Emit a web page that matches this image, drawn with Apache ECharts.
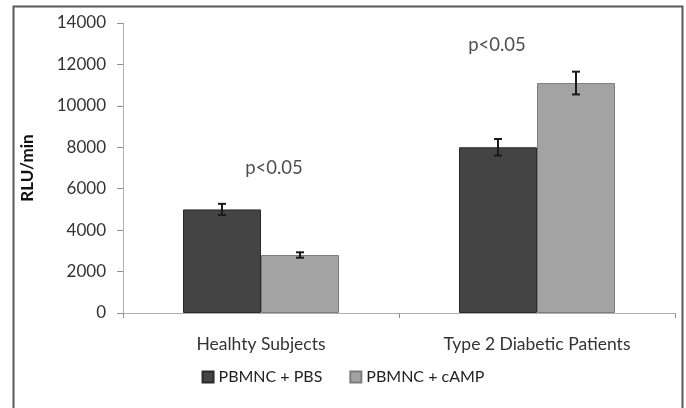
<!DOCTYPE html>
<html><head><meta charset="utf-8">
<script src="https://cdn.jsdelivr.net/npm/echarts@6/dist/echarts.min.js"></script>
<style>html,body{margin:0;padding:0;background:#fff}#c{width:686px;height:408px}</style>
</head><body><div id="c"></div>
<script>
var categories = ['Healhty Subjects', 'Type 2 Diabetic Patients'];
var seriesNames = ['PBMNC + PBS', 'PBMNC + cAMP'];
var pbsValues = [5000, 8000];
var campValues = [2800, 11100];
var pbsErrors = [270, 400];
var campErrors = [130, 550];
var yTicks = [0, 2000, 4000, 6000, 8000, 10000, 12000, 14000];
var annotations = [
  {cat: 'Healhty Subjects', value: 7000, text: 'p<0.05', dx: 13},
  {cat: 'Type 2 Diabetic Patients', value: 12950, text: 'p<0.05', dx: -40}
];

var FONT = 'Lato';
var BAR_W = 78;
var chart = echarts.init(document.getElementById('c'));

function errSeries(vals, errs, dx) {
  return {
    type: 'custom', silent: true, z: 10,
    data: categories.map(function (c, i) { return [i, vals[i], errs[i]]; }),
    renderItem: function (params, api) {
      var x = api.coord([api.value(0), 0])[0] + dx;
      var hi = api.coord([api.value(0), api.value(1) + api.value(2)])[1];
      var lo = api.coord([api.value(0), api.value(1) - api.value(2)])[1];
      var cw = 4;
      var st = {stroke: '#1a1a1a', lineWidth: 2};
      return {type: 'group', children: [
        {type: 'line', shape: {x1: x, y1: hi, x2: x, y2: lo}, style: st},
        {type: 'line', shape: {x1: x - cw, y1: hi, x2: x + cw, y2: hi}, style: st},
        {type: 'line', shape: {x1: x - cw, y1: lo, x2: x + cw, y2: lo}, style: st}
      ]};
    }
  };
}

chart.setOption({
  backgroundColor: '#fff',
  animation: false,
  textStyle: {fontFamily: FONT},
  grid: {left: 123, right: 11, top: 23, bottom: 95},
  graphic: [{type: 'rect', shape: {x: 13.5, y: 6.5, width: 669, height: 420},
    style: {fill: 'none', stroke: '#5a5a5a', lineWidth: 2}, silent: true}],
  legend: {
    data: seriesNames, bottom: 18, left: 'center', icon: 'rect',
    itemWidth: 11, itemHeight: 11, itemGap: 27,
    textStyle: {fontFamily: FONT, fontSize: 16, color: '#222'}
  },
  xAxis: {
    type: 'category', data: categories,
    axisLine: {lineStyle: {color: '#b0b0b0', width: 1}},
    axisTick: {show: true, length: 5, lineStyle: {color: '#909090'}, alignWithLabel: false},
    axisLabel: {fontFamily: FONT, fontSize: 17.5, color: '#333', margin: 22}
  },
  yAxis: {
    type: 'value', min: 0, max: 14000, interval: 2000,
    name: 'RLU/min', nameLocation: 'middle', nameGap: 87, nameRotate: 90,
    nameTextStyle: {fontFamily: FONT, fontSize: 17, fontWeight: 'bold', color: '#111'},
    axisLine: {show: true, lineStyle: {color: '#b0b0b0'}},
    axisTick: {show: true, length: 6, lineStyle: {color: '#909090'}},
    splitLine: {show: false},
    axisLabel: {fontFamily: FONT, fontSize: 17, color: '#333', margin: 17,
      formatter: function (v) { return yTicks.indexOf(v) >= 0 ? String(v) : ''; }}
  },
  series: [
    {name: seriesNames[0], type: 'bar', data: pbsValues, barWidth: BAR_W, barGap: '0%',
      itemStyle: {color: '#444444', borderColor: '#2a2a2a', borderWidth: 1}},
    {name: seriesNames[1], type: 'bar', data: campValues, barWidth: BAR_W,
      itemStyle: {color: '#a3a3a3', borderColor: '#7c7c7c', borderWidth: 1}},
    errSeries(pbsValues, pbsErrors, -BAR_W / 2),
    errSeries(campValues, campErrors, BAR_W / 2),
    {type: 'scatter', symbolSize: 0, silent: true,
      data: annotations.map(function (a) {
        return {value: [a.cat, a.value],
          label: {show: true, position: 'inside', formatter: a.text, offset: [a.dx, 0],
            fontFamily: FONT, fontSize: 18.5, color: '#222'}};
      })}
  ]
});
</script></body></html>
